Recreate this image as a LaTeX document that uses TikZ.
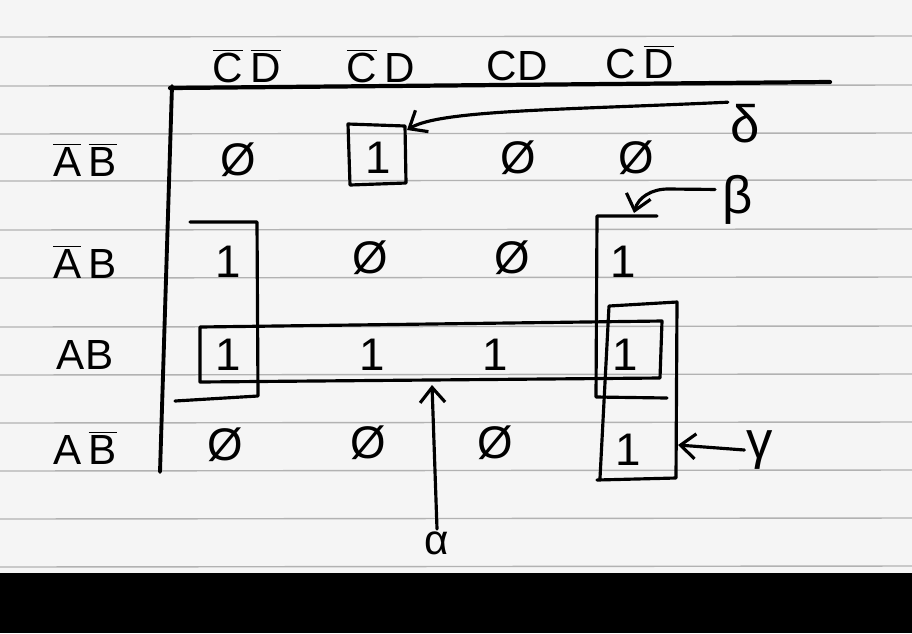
\documentclass[tikz,border=0pt]{standalone}
\usepackage{fontspec}
\setmainfont{Liberation Sans}
\usetikzlibrary{arrows.meta, positioning}

\newcommand{\nb}[1]{\overline{\mbox{#1}}}

\begin{document}
\begin{tikzpicture}[x=0.02cm, y=-0.02cm, >={Straight Barb[length=3mm,width=5mm]}, thick]
    % Style definitions
    \tikzset{lbl/.style={font=\fontsize{24}{28}\selectfont, inner sep=1pt}}
    \tikzset{cell/.style={font=\fontsize{26}{30}\selectfont, inner sep=1pt}}
    \tikzset{greek/.style={font=\fontsize{30}{34}\selectfont, inner sep=1pt}}
    \tikzset{pen/.style={line width=1.8pt, line join=round, line cap=round}}
    \tikzset{ruled/.style={gray!60, line width=0.8pt}}
    \tikzset{arrow/.style={pen,->}}

    % Paper
    \useasboundingbox (0,0) rectangle (912,633);
    \fill[gray!8] (0,0) rectangle (912,633);
    \foreach \y in {37,86,134,181,230,278,327,375,423,471,519,567}
        \draw[ruled] (0,\y) -- (912,\y-1);
    \fill[black] (0,573) rectangle (912,633);

    % Map frame
    \draw[pen, line width=2.4pt] (170,88) -- (830,82);
    \draw[pen, line width=2.2pt] (172,86) -- (160,472);

    % Column labels
    \node [lbl] (cdnn) at (247,66) {$\nb{C}\,\nb{D}$};
    \node [lbl] (cdnp) at (381,66) {$\nb{C}\,\mbox{D}$};
    \node [lbl] (cdpp) at (517,66) {CD};
    \node [lbl] (cdpn) at (640,62) {$\mbox{C}\,\nb{D}$};

    % Row labels
    \node [lbl] (abnn) at (85,160) {$\nb{A}\,\nb{B}$};
    \node [lbl] (abnp) at (85,262) {$\nb{A}\,\mbox{B}$};
    \node [lbl] (abpp) at (85,355) {AB};
    \node [lbl] (abpn) at (85,448) {$\mbox{A}\,\nb{B}$};

    % Cells
    \node [cell] (c11) at (238,160) {\O};
    \node [cell] (c12) at (378,158) {1};
    \node [cell] (c13) at (518,158) {\O};
    \node [cell] (c14) at (636,158) {\O};
    \node [cell] (c21) at (228,262) {1};
    \node [cell] (c22) at (370,258) {\O};
    \node [cell] (c23) at (512,258) {\O};
    \node [cell] (c24) at (623,262) {1};
    \node [cell] (c31) at (228,355) {1};
    \node [cell] (c32) at (372,355) {1};
    \node [cell] (c33) at (495,355) {1};
    \node [cell] (c34) at (625,355) {1};
    \node [cell] (c41) at (225,445) {\O};
    \node [cell] (c42) at (368,443) {\O};
    \node [cell] (c43) at (495,443) {\O};
    \node [cell] (c44) at (628,450) {1};

    % Groups
    \draw[pen] (348,124) -- (405,126) -- (406,183) -- (350,185) -- cycle;
    \draw[pen] (200,327) -- (662,321) -- (660,378) -- (200,382) -- cycle;
    \draw[pen] (190,222) -- (257,222) -- (258,396) -- (175,401);
    \draw[pen] (657,216) -- (597,216) -- (596,397) -- (667,398);
    \draw[pen] (600,478) -- (609,306) -- (677,302) -- (676,478) -- (597,480);

    % Group names
    \node [greek] (delta) at (745,124) {δ};
    \node [greek] (beta) at (738,200) {β};
    \node [greek] (gamma) at (760,450) {γ};
    \node [greek, font=\fontsize{24}{28}\selectfont] (alpha) at (437,543) {α};
    \coordinate (dtip) at (407,130);
    \coordinate (btip) at (634,213);
    \coordinate (gtip) at (678,445);
    \coordinate (atip) at (432,385);

    % Arrows
    \draw [arrow] (delta.north west) .. controls (560,110) and (440,110) .. (dtip);
    \draw [arrow] ([shift={(-3pt,6pt)}]beta.west) -- (668,189) to[out=180,in=75] (btip);
    \draw [arrow] (gamma.west) -- (gtip);
    \draw [arrow] (alpha.north) -- (atip);
\end{tikzpicture}
\end{document}
